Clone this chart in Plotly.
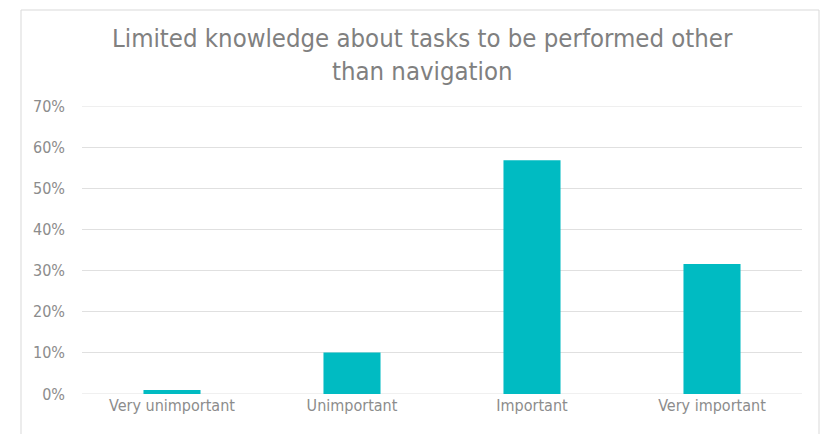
import plotly.graph_objects as go

categories = ["Very unimportant", "Unimportant", "Important", "Very important"]
values = [0.01, 0.101, 0.568, 0.316]
y_ticks = [0, 0.1, 0.2, 0.3, 0.4, 0.5, 0.6, 0.7]
y_tick_labels = ["0%", "10%", "20%", "30%", "40%", "50%", "60%", "70%"]
title_text = "Limited knowledge about tasks to be performed other<br>than navigation"

font_family = "Liberation Sans Narrow, DejaVu Sans Condensed, Arial Narrow, sans-serif"

fig = go.Figure(go.Bar(
    x=categories, y=values,
    marker=dict(color="#00BBC2", line=dict(width=0)),
    width=0.317,
))

fig.update_layout(
    width=822, height=426,
    margin=dict(l=74, r=28, t=98, b=40),
    paper_bgcolor="white", plot_bgcolor="white",
    showlegend=False,
    font=dict(family=font_family, color="#8c8c8c", size=16),
)
fig.add_annotation(
    text=title_text, xref="paper", yref="paper",
    x=0.4736, y=1 + (98 - 13) / 288, xanchor="center", yanchor="top",
    showarrow=False, align="center",
    font=dict(family=font_family, size=25.5, color="#808080"),
)
fig.update_xaxes(
    showgrid=False, showline=False, ticks="", zeroline=False,
    tickfont=dict(size=16, color="#8c8c8c"),
)
fig.update_yaxes(
    range=[0, y_ticks[-1]], tickvals=y_ticks, ticktext=y_tick_labels,
    showgrid=True, gridcolor="#e0e0e0", gridwidth=1,
    zeroline=False, showline=False, ticks="",
    tickfont=dict(size=16, color="#8c8c8c"), ticklabelstandoff=16,
)
fig.add_shape(type="rect", xref="paper", yref="paper",
              x0=-61/720, x1=737/720, y0=-0.3, y1=1 + 96/288,
              line=dict(color="#d9d9d9", width=1), fillcolor="rgba(0,0,0,0)", layer="below")
for edge in (y_ticks[0], y_ticks[-1]):
    fig.add_shape(type="line", xref="paper", yref="y", x0=0, x1=1, y0=edge, y1=edge,
                  line=dict(color="#e0e0e0", width=1), layer="below")

fig.write_html("out.html")
